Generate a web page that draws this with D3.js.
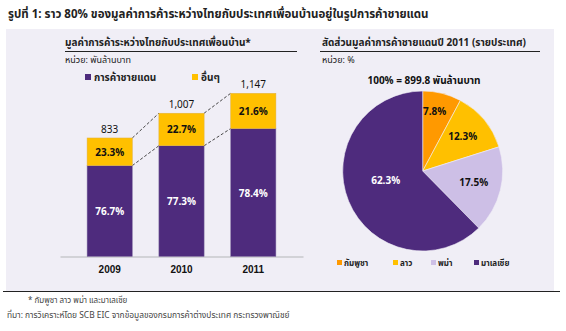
<!DOCTYPE html>
<html>
<head>
<meta charset="utf-8">
<script src="https://cdn.jsdelivr.net/npm/d3@7"></script>
<style>
  body { margin: 0; background: #fff; }
  svg { display: block; font-family: Tahoma, "Noto Sans Thai", "Noto Sans", "DejaVu Sans", sans-serif; }
</style>
</head>
<body>
<div id="chart"></div>
<script>
// ข้อมูลแผนภูมิแท่ง
const years = ["2009", "2010", "2011"];
const totals = [833, 1007, 1147];
const borderShare = [76.7, 77.3, 78.4];   // การค้าชายแดน
const otherShare = [23.3, 22.7, 21.6];    // อื่นๆ
const barSeries = ["การค้าชายแดน", "อื่นๆ"];

// ข้อมูลแผนภูมิวงกลม
const countries = ["กัมพูชา", "ลาว", "พม่า", "มาเลเซีย"];
const countryShare = [7.8, 12.3, 17.5, 62.3];
const pieTotal = 899.8;

const width = 566, height = 331;
const purple = "#4e2b7d", yellow = "#ffc000";
const pieColors = ["#ff9900", "#ffc000", "#cdbfe6", "#4e2b7d"];

const svg = d3.select("#chart").append("svg")
    .attr("width", width)
    .attr("height", height)
    .attr("viewBox", [0, 0, width, height]);

// หัวเรื่อง
svg.append("text")
    .attr("x", 8).attr("y", 18)
    .attr("font-size", 11.5).attr("font-weight", "bold").attr("fill", "#222")
    .text("รูปที่ 1:  ราว 80% ของมูลค่าการค้าระหว่างไทยกับประเทศเพื่อนบ้านอยู่ในรูปการค้าชายแดน");

// พื้นหลัง
svg.append("rect")
    .attr("x", 6).attr("y", 29).attr("width", 548).attr("height", 262)
    .attr("fill", "#f0eef6");

svg.append("line")
    .attr("x1", 3).attr("x2", 560).attr("y1", 291.5).attr("y2", 291.5)
    .attr("stroke", "#222").attr("stroke-width", 1);

// ---- แผนภูมิแท่ง ----
const left = svg.append("g");
left.append("text").attr("x", 65).attr("y", 46)
    .attr("font-size", 10).attr("font-weight", "bold").attr("fill", "#222")
    .text("มูลค่าการค้าระหว่างไทยกับประเทศเพื่อนบ้าน*");
left.append("line").attr("x1", 65).attr("x2", 297).attr("y1", 51.5).attr("y2", 51.5)
    .attr("stroke", "#222");
left.append("text").attr("x", 65).attr("y", 63)
    .attr("font-size", 9).attr("fill", "#222")
    .text("หน่วย: พันล้านบาท");

const x = d3.scaleBand().domain(years).range([60, 303]).paddingInner(0.37).paddingOuter(0.37 * 1.02);
const y = d3.scaleLinear().domain([0, 1147]).range([256.5, 93.3]);

const bars = years.map((yr, i) => {
  const border = totals[i] * borderShare[i] / 100;
  return {year: yr, total: totals[i], border, other: totals[i] - border, bs: borderShare[i], os: otherShare[i]};
});

// แกน x
const xAxis = d3.axisBottom(x).tickSize(0).tickPadding(9);
left.append("g")
    .attr("transform", `translate(0,${y(0)})`)
    .call(xAxis)
    .call(g => g.select(".domain").attr("stroke", "#c8c8cc").attr("stroke-width", 1.5))
    .call(g => g.selectAll(".tick text")
        .attr("font-size", 10).attr("font-weight", "bold").attr("fill", "#111")
        .attr("font-family", "inherit"));

// เส้นประเชื่อมระหว่างแท่ง
const links = [];
for (let i = 0; i < bars.length - 1; i++) {
  links.push([x(bars[i].year) + x.bandwidth(), y(bars[i].total), x(bars[i + 1].year), y(bars[i + 1].total)]);
  links.push([x(bars[i].year) + x.bandwidth(), y(bars[i].border), x(bars[i + 1].year), y(bars[i + 1].border)]);
}
left.selectAll(".link").data(links).join("line")
    .attr("x1", d => d[0]).attr("y1", d => d[1])
    .attr("x2", d => d[2]).attr("y2", d => d[3])
    .attr("stroke", "#333").attr("stroke-width", 0.9).attr("stroke-dasharray", "3,2");

const bg = left.selectAll(".bar").data(bars).join("g");
bg.append("rect")
    .attr("x", d => x(d.year)).attr("width", x.bandwidth())
    .attr("y", d => y(d.border)).attr("height", d => y(0) - y(d.border))
    .attr("fill", purple).attr("stroke", "#8a78a8").attr("stroke-width", 0.5);
bg.append("rect")
    .attr("x", d => x(d.year)).attr("width", x.bandwidth())
    .attr("y", d => y(d.total)).attr("height", d => y(d.border) - y(d.total))
    .attr("fill", yellow).attr("stroke", "#e0b040").attr("stroke-width", 0.5);

bg.append("text")
    .attr("x", d => x(d.year) + x.bandwidth() / 2)
    .attr("y", d => (y(d.border) + y(0)) / 2 + 4)
    .attr("text-anchor", "middle").attr("font-size", 10).attr("font-weight", "bold")
    .attr("fill", "#fff").text(d => d.bs.toFixed(1) + "%");
bg.append("text")
    .attr("x", d => x(d.year) + x.bandwidth() / 2)
    .attr("y", d => (y(d.total) + y(d.border)) / 2 + 4)
    .attr("text-anchor", "middle").attr("font-size", 10).attr("font-weight", "bold")
    .attr("fill", "#111").text(d => d.os.toFixed(1) + "%");
bg.append("text")
    .attr("x", d => x(d.year) + x.bandwidth() / 2)
    .attr("y", d => y(d.total) - 5)
    .attr("text-anchor", "middle").attr("font-size", 10)
    .attr("fill", "#111").text(d => d3.format(",")(d.total));

// คำอธิบายสัญลักษณ์
const lg = left.selectAll(".lg").data(barSeries).join("g")
    .attr("transform", (d, i) => `translate(${[85, 192][i]},80)`);
lg.append("rect").attr("y", -6).attr("width", 6).attr("height", 6)
    .attr("fill", (d, i) => [purple, yellow][i]);
lg.append("text").attr("x", 9).attr("y", 0.5)
    .attr("font-size", 10).attr("font-weight", "bold").attr("fill", "#222").text(d => d);

// ---- แผนภูมิวงกลม ----
const right = svg.append("g");
right.append("text").attr("x", 322).attr("y", 46)
    .attr("font-size", 10).attr("font-weight", "bold").attr("fill", "#222")
    .text("สัดส่วนมูลค่าการค้าชายแดนปี 2011 (รายประเทศ)");
right.append("line").attr("x1", 320).attr("x2", 540).attr("y1", 51.5).attr("y2", 51.5)
    .attr("stroke", "#222");
right.append("text").attr("x", 322).attr("y", 63)
    .attr("font-size", 9).attr("fill", "#222").text("หน่วย: %");
right.append("text").attr("x", 424).attr("y", 84)
    .attr("text-anchor", "middle").attr("font-size", 10).attr("font-weight", "bold")
    .attr("fill", "#111").text(`100% = ${pieTotal} พันล้านบาท`);

const cx = 422.7, cy = 171, r = 80;
const pie = d3.pie().sort(null).value(d => d.v);
const arc = d3.arc().innerRadius(0).outerRadius(r);
const slices = pie(countries.map((c, i) => ({c, v: countryShare[i], color: pieColors[i]})));

const pg = right.append("g").attr("transform", `translate(${cx},${cy})`);
pg.selectAll("path").data(slices).join("path")
    .attr("d", arc).attr("fill", d => d.data.color)
    .attr("stroke", "#f0eef6").attr("stroke-width", 0.6);

const labelPos = [[12, -56], [40, -31], [51, 15], [-37, 13]];
pg.selectAll(".pl").data(slices).join("text")
    .attr("x", (d, i) => labelPos[i][0]).attr("y", (d, i) => labelPos[i][1])
    .attr("text-anchor", "middle").attr("font-size", 10).attr("font-weight", "bold")
    .attr("fill", (d, i) => i === 3 ? "#fff" : "#111")
    .text(d => d.data.v.toFixed(1) + "%");

const pl = right.selectAll(".plg").data(countries).join("g")
    .attr("transform", (d, i) => `translate(${[337, 393, 431, 474][i]},266)`);
pl.append("rect").attr("y", -6).attr("width", 5).attr("height", 5)
    .attr("fill", (d, i) => pieColors[i]);
pl.append("text").attr("x", 7).attr("y", 0)
    .attr("font-size", 8).attr("font-weight", "bold").attr("fill", "#222").text(d => d);

// ที่มา
svg.append("text").attr("x", 28).attr("y", 303)
    .attr("font-size", 8).attr("fill", "#444").text("*  กัมพูชา ลาว พม่า และมาเลเซีย");
svg.append("text").attr("x", 7).attr("y", 318)
    .attr("font-size", 8.4).attr("fill", "#444")
    .text("ที่มา:  การวิเคราะห์โดย SCB EIC จากข้อมูลของกรมการค้าต่างประเทศ กระทรวงพาณิชย์");
</script>
</body>
</html>
